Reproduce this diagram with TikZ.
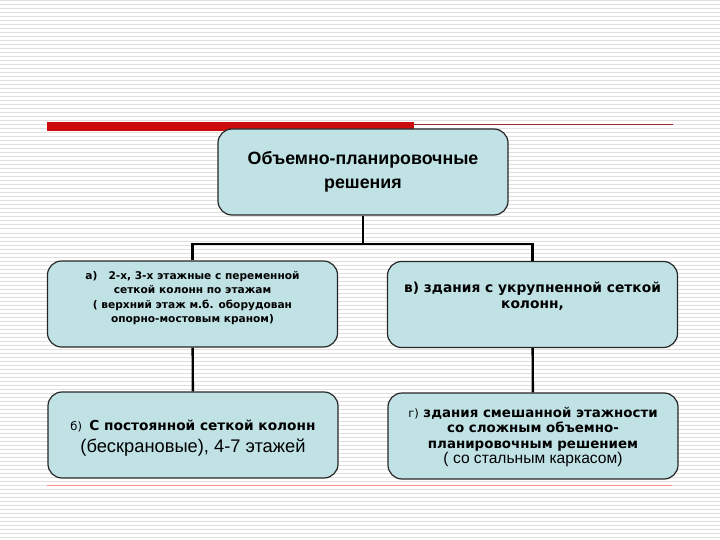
\documentclass[tikz,border=0pt]{standalone}
\usepackage{fontspec}
\setmainfont{Liberation Sans}
\newfontfamily\wide{DejaVu Sans}
\definecolor{boxfill}{RGB}{192,226,229}
\definecolor{barred}{RGB}{204,12,12}
\definecolor{linered}{RGB}{150,40,40}
\begin{document}
\begin{tikzpicture}[x=1pt, y=-1pt,
    box/.style={draw=black!85, line width=1.2pt, fill=boxfill, rounded corners=14pt,
                minimum width=290pt, minimum height=86pt, align=center, inner sep=0pt},
    txt/.style={align=center, inner sep=0pt},
    conn/.style={line width=2.4pt, black}]
\useasboundingbox (0,0) rectangle (720,540);
% background stripes
\foreach \y in {1,5,...,537} \draw[gray!25, line width=1pt] (0,\y)--(720,\y);
% top bar
\fill[barred] (47,122) rectangle (414,131);
\draw[linered, line width=1pt] (414,124.5)--(673,124.5);
\draw[red!45, line width=.8pt] (47,485)--(672,485);

\node[box, font=\fontsize{17.8}{24}\selectfont\bfseries] (title) at (363,172)
    {Объемно-планировочные\\решения};
\node[box] (a) at (192.5,304) {};
\node[txt, font=\wide\fontsize{10.6}{14.5}\selectfont\bfseries] (atext) at ([yshift=6pt]a)
    {а)\ \ \ 2-х, 3-х этажные с переменной\\сеткой колонн по этажам\\( верхний этаж м.б. оборудован\\опорно-мостовым краном)};
\node[box] (v) at (532.5,304.5) {};
\node[txt, font=\wide\fontsize{13.8}{15.5}\selectfont\bfseries] (vtext) at ([yshift=8.5pt]v)
    {в) здания с укрупненной сеткой\\колонн,};
\node[box] (b) at (193,435) {};
\node[txt] (btext) at ([yshift=-3.5pt]b)
    {{\wide\fontsize{11.5}{13}\selectfont б)\ \ \bfseries\fontsize{13.7}{13}\selectfont С постоянной сеткой колонн}\\[6pt]
     \fontsize{18.3}{20}\selectfont (бескрановые), 4-7 этажей};
\node[box] (g) at (533,436) {};
\node[txt, font=\wide\fontsize{13.4}{15.5}\selectfont\bfseries] (gtext) at ([yshift=-1pt]g)
    {{\mdseries\fontsize{11.5}{15}\selectfont г)}\ здания смешанной этажности\\
     со сложным объемно-\\планировочным решением\\
     {\rmfamily\mdseries\fontsize{15.6}{16.5}\selectfont ( со стальным каркасом)}};

\coordinate (j) at (363,244);
\draw[conn] (title) -- (j);
\draw[conn] (a.north) |- (j) -| (v.north);
\draw[conn] (a) -- (b);
\draw[conn] (v) -- (g);
\end{tikzpicture}
\end{document}
